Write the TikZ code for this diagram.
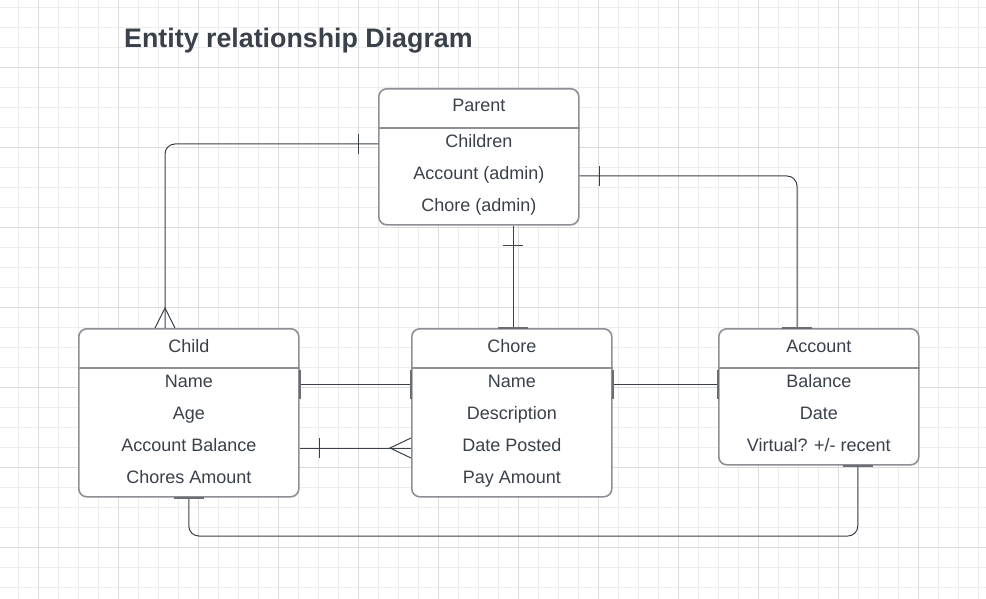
\documentclass[tikz,border=0pt]{standalone}
\usepackage{fontspec}
\setmainfont{Liberation Sans}
\usetikzlibrary{calc}
\definecolor{txt}{HTML}{3A414A}
\definecolor{bord}{HTML}{8C9095}
\definecolor{gridmin}{HTML}{EDEDED}
\definecolor{gridmaj}{HTML}{DCDCDC}
\definecolor{conncol}{HTML}{3A414A}
\definecolor{markc}{HTML}{6A6E73}
\begin{document}
\begin{tikzpicture}[x=1pt,y=-1pt,
  font=\fontsize{18}{22}\selectfont, text=txt,
  entity/.style={draw=bord, line width=1.6pt, rounded corners=8pt, fill=white, inner sep=0pt, anchor=north west},
  divider/.style={draw=bord, line width=1.6pt},
  row/.style={anchor=base, inner sep=0pt},
  conn/.style={draw=conncol, line width=1pt, rounded corners=10pt},
  tickmark/.style={draw=conncol, line width=1pt},
  edgebar/.style={draw=markc, line width=2pt}]
\useasboundingbox (0,0) rectangle (986,599);
\fill[white] (0,0) rectangle (986,599);
% grid
\foreach \i in {0,...,48} \draw[gridmin, line width=1pt] ({18.7+20*\i},0) -- ({18.7+20*\i},599);
\foreach \i in {0,...,29} \draw[gridmin, line width=1pt] (0,{7.3+20*\i}) -- (986,{7.3+20*\i});
\foreach \i in {0,...,11} \draw[gridmaj, line width=1pt] ({38.7+80*\i},0) -- ({38.7+80*\i},599);
\foreach \i in {0,...,6} \draw[gridmaj, line width=1pt] (0,{67.3+80*\i}) -- (986,{67.3+80*\i});

% title
\node[anchor=base west, inner sep=0pt, font=\fontsize{26.8}{30}\selectfont\bfseries] (title) at (124,47.3) {Entity relationship Diagram};

% entities
\node[entity, minimum width=200pt, minimum height=136pt] (parent) at (378,88) {};
\node[entity, minimum width=220pt, minimum height=168pt] (child) at (78,328) {};
\node[entity, minimum width=200pt, minimum height=168pt] (chore) at (411,328) {};
\node[entity, minimum width=200pt, minimum height=136pt] (account) at (718,328) {};

\foreach \e in {parent,child,chore,account}
  \draw[divider] ($(\e.north west)+(0,40)$) -- ($(\e.north east)+(0,40)$);

% texts
\node[row] (parentH) at ($(parent.north)+(0,24)$) {Parent};
\node[row] (parentA) at ($(parent.north)+(0,59.7)$) {Children};
\node[row] (parentB) at ($(parent.north)+(0,91.7)$) {Account (admin)};
\node[row] (parentC) at ($(parent.north)+(0,123.7)$) {Chore (admin)};

\node[row] (childH) at ($(child.north)+(0,24)$) {Child};
\node[row] (childA) at ($(child.north)+(0,59.7)$) {Name};
\node[row] (childB) at ($(child.north)+(0,91.7)$) {Age};
\node[row] (childC) at ($(child.north)+(0,123.7)$) {Account Balance};
\node[row] (childD) at ($(child.north)+(0,155.7)$) {Chores Amount};

\node[row] (choreH) at ($(chore.north)+(0,24)$) {Chore};
\node[row] (choreA) at ($(chore.north)+(0,59.7)$) {Name};
\node[row] (choreB) at ($(chore.north)+(0,91.7)$) {Description};
\node[row] (choreC) at ($(chore.north)+(0,123.7)$) {Date Posted};
\node[row] (choreD) at ($(chore.north)+(0,155.7)$) {Pay Amount};

\node[row] (accountH) at ($(account.north)+(0,24)$) {Account};
\node[row] (accountA) at ($(account.north)+(0,59.7)$) {Balance};
\node[row] (accountB) at ($(account.north)+(0,91.7)$) {Date};
\node[row] (accountC) at ($(account.north)+(0,123.7)$) {Virtual? +/- recent};

% connector 1: Parent - Child
\coordinate (p1) at ($(parent.north west)+(0,56)$);
\coordinate (c1) at ($(child.north west)+(87,0)$);
\draw[conn] (p1) -- (p1 -| c1) -- (c1);
\draw[tickmark] ($(p1)+(-20,-10)$) -- ($(p1)+(-20,10)$);
\draw[tickmark] ($(c1)+(-10,0)$) -- ($(c1)+(0,-20)$) -- ($(c1)+(10,0)$);

% connector 2: Parent - Account
\coordinate (p2) at ($(parent.north east)+(0,88)$);
\coordinate (a1) at ($(account.north west)+(79,0)$);
\draw[conn] (p2) -- (p2 -| a1) -- (a1);
\draw[tickmark] ($(p2)+(20,-10)$) -- ($(p2)+(20,10)$);
\draw[edgebar] ($(a1)+(-15,0)$) -- ($(a1)+(15,0)$);

% connector 3: Parent - Chore
\coordinate (p3) at ($(parent.south)+(34.5,0)$);
\coordinate (h1) at (p3 |- chore.north);
\draw[conn] (p3) -- (h1);
\draw[tickmark] ($(p3)+(-10,20)$) -- ($(p3)+(10,20)$);
\draw[edgebar] ($(h1)+(-15,0)$) -- ($(h1)+(15,0)$);

% connector 4: Child - Chore (upper)
\coordinate (c2) at ($(child.north east)+(0,56)$);
\coordinate (h2) at (c2 -| chore.west);
\draw[conn] (c2) -- (h2);
\draw[edgebar] ($(c2)+(0,-14.5)$) -- ($(c2)+(0,14.5)$);
\draw[edgebar] ($(h2)+(0,-14.5)$) -- ($(h2)+(0,14.5)$);

% connector 5: Child - Chore (lower)
\coordinate (c3) at ($(child.north east)+(0,120)$);
\coordinate (h3) at (c3 -| chore.west);
\draw[conn] (c3) -- (h3);
\draw[tickmark] ($(c3)+(20,-10)$) -- ($(c3)+(20,10)$);
\draw[tickmark] ($(h3)+(0,-10)$) -- ($(h3)+(-21,0)$) -- ($(h3)+(0,10)$);

% connector 6: Chore - Account
\coordinate (h4) at ($(chore.north east)+(0,56)$);
\coordinate (a4) at (h4 -| account.west);
\draw[conn] (h4) -- (a4);
\draw[edgebar] ($(h4)+(0,-14.5)$) -- ($(h4)+(0,14.5)$);
\draw[edgebar] ($(a4)+(0,-14.5)$) -- ($(a4)+(0,14.5)$);

% connector 7: Child - Account (bottom)
\coordinate (c4) at (child.south);
\coordinate (a5) at ($(account.south)+(39,0)$);
\coordinate (bot) at (0,536);
\draw[conn] (c4) -- (c4 |- bot) -- (a5 |- bot) -- (a5);
\draw[edgebar] ($(c4)+(-15,0)$) -- ($(c4)+(15,0)$);
\draw[edgebar] ($(a5)+(-15,0)$) -- ($(a5)+(15,0)$);
\end{tikzpicture}
\end{document}
